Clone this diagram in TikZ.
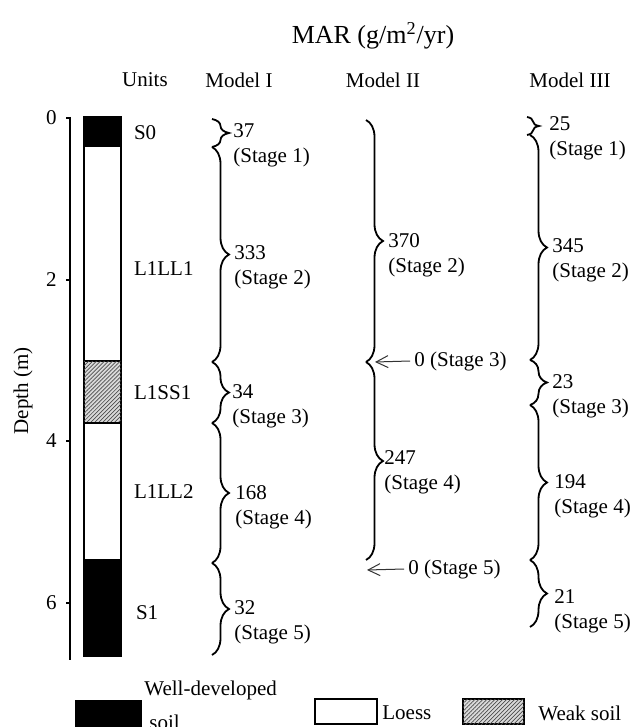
\documentclass[tikz,border=0pt]{standalone}
\usepackage{fontspec}
\setmainfont{Liberation Serif}
\usetikzlibrary{decorations.pathreplacing,arrows.meta,patterns.meta}
\tikzset{
	mar/.style={decorate, decoration={brace, amplitude=8.5pt}, line width=0.9pt},
	stagelbl/.style={anchor=west, align=left, inner sep=0pt},
	zeroarr/.style={-{Straight Barb[length=6pt, width=6pt]}, line width=0.5pt, color=black!80},
	weaksoil/.style={fill=black!15, postaction={pattern={Lines[angle=45, distance=1.4pt, line width=0.35pt]}, pattern color=black!70}},
}
\begin{document}
\begin{tikzpicture}[x=0.5pt, y=-0.5pt, font=\fontsize{10.5}{12.5}\selectfont]
	\useasboundingbox (0,0) rectangle (633,727);
	% headings
	\node[font=\fontsize{13}{15}\selectfont] (mar) at (373,36) {MAR (g/m\textsuperscript{2}/yr)};
	\node (units) at (145,80) {Units};
	\node (mI) at (239,80) {Model I};
	\node (mII) at (383,80) {Model II};
	\node (mIII) at (570,80) {Model III};
	% depth axis
	\draw[line width=1pt] (70,117) -- (70,660);
	\foreach \d/\y in {0/118, 2/280, 4/441, 6/603} {
		\draw[line width=0.8pt] (66,\y) -- (70,\y);
		\node[anchor=east, inner sep=0pt] (tick\d) at (57,\y) {\d};
	}
	\node[rotate=90] (depth) at (23,391) {Depth (m)};
	% units column
	\begin{scope}[line width=0.7pt]
		\draw[fill=black] (84,117) rectangle (121,146);
		\draw[fill=white] (84,146) rectangle (121,361);
		\draw[weaksoil] (84,361) rectangle (121,423);
		\draw[fill=white] (84,423) rectangle (121,560);
		\draw[fill=black] (84,560) rectangle (121,656);
	\end{scope}
	\node[anchor=west] (uS0) at (127,133) {S0};
	\node[anchor=west] (uL1) at (127,269) {L1LL1};
	\node[anchor=west] (uSS) at (127,393) {L1SS1};
	\node[anchor=west] (uL2) at (127,492) {L1LL2};
	\node[anchor=west] (uS1) at (129,613) {S1};
	% Model I
	\draw[mar] (212,119) -- (212,147);
	\draw[mar] (212,147) -- (212,362);
	\draw[mar] (212,362) -- (212,423);
	\draw[mar] (212,423) -- (212,563);
	\draw[mar] (212,563) -- (212,655);
	\node[stagelbl] (aI1) at (233,145) {37\\(Stage 1)};
	\node[stagelbl] (aI2) at (234,267) {333\\(Stage 2)};
	\node[stagelbl] (aI3) at (232,406) {34\\(Stage 3)};
	\node[stagelbl] (aI4) at (235,507) {168\\(Stage 4)};
	\node[stagelbl] (aI5) at (234,622) {32\\(Stage 5)};
	% Model II
	\draw[mar] (366,120) -- (366,362);
	\draw[mar] (366,362) -- (366,560);
	\node[stagelbl] (aII2) at (388,255) {370\\(Stage 2)};
	\node[stagelbl] (aII4) at (384,472) {247\\(Stage 4)};
	\coordinate (z3tip) at (375,362);
	\coordinate (z5tip) at (367,570);
	\node[anchor=west, inner sep=2pt] (aII3) at (410,361) {0 (Stage 3)};
	\node[anchor=west, inner sep=2pt] (aII5) at (404,569) {0 (Stage 5)};
	\draw[zeroarr] (aII3.west) -- (z3tip);
	\draw[zeroarr] (aII5.west) -- (z5tip);
	% Model III
	\draw[mar, decoration={amplitude=6pt}] (527,117) -- (527,135);
	\draw[mar] (530,135) -- (530,360);
	\draw[mar] (530,360) -- (530,405);
	\draw[mar] (530,405) -- (530,560);
	\draw[mar] (530,560) -- (530,627);
	\node[stagelbl] (aIII1) at (549,138) {25\\(Stage 1)};
	\node[stagelbl] (aIII2) at (552,260) {345\\(Stage 2)};
	\node[stagelbl] (aIII3) at (552,396) {23\\(Stage 3)};
	\node[stagelbl] (aIII4) at (554,496) {194\\(Stage 4)};
	\node[stagelbl] (aIII5) at (554,611) {21\\(Stage 5)};
	% legend
	\begin{scope}[line width=0.7pt]
		\draw[fill=black] (76,701) rectangle (141,740);
		\draw[fill=white] (315,699) rectangle (377,724);
		\draw[weaksoil] (463,699) rectangle (524,724);
	\end{scope}
	\node[anchor=west, inner sep=0pt] (lgwell) at (144,690) {Well-developed};
	\node[anchor=west, inner sep=0pt] (lgsoil) at (149,722) {soil};
	\node[anchor=west, inner sep=0pt] (lgloess) at (382,713) {Loess};
	\node[anchor=west, inner sep=0pt] (lgweak) at (538,713) {Weak soil};
\end{tikzpicture}
\end{document}
